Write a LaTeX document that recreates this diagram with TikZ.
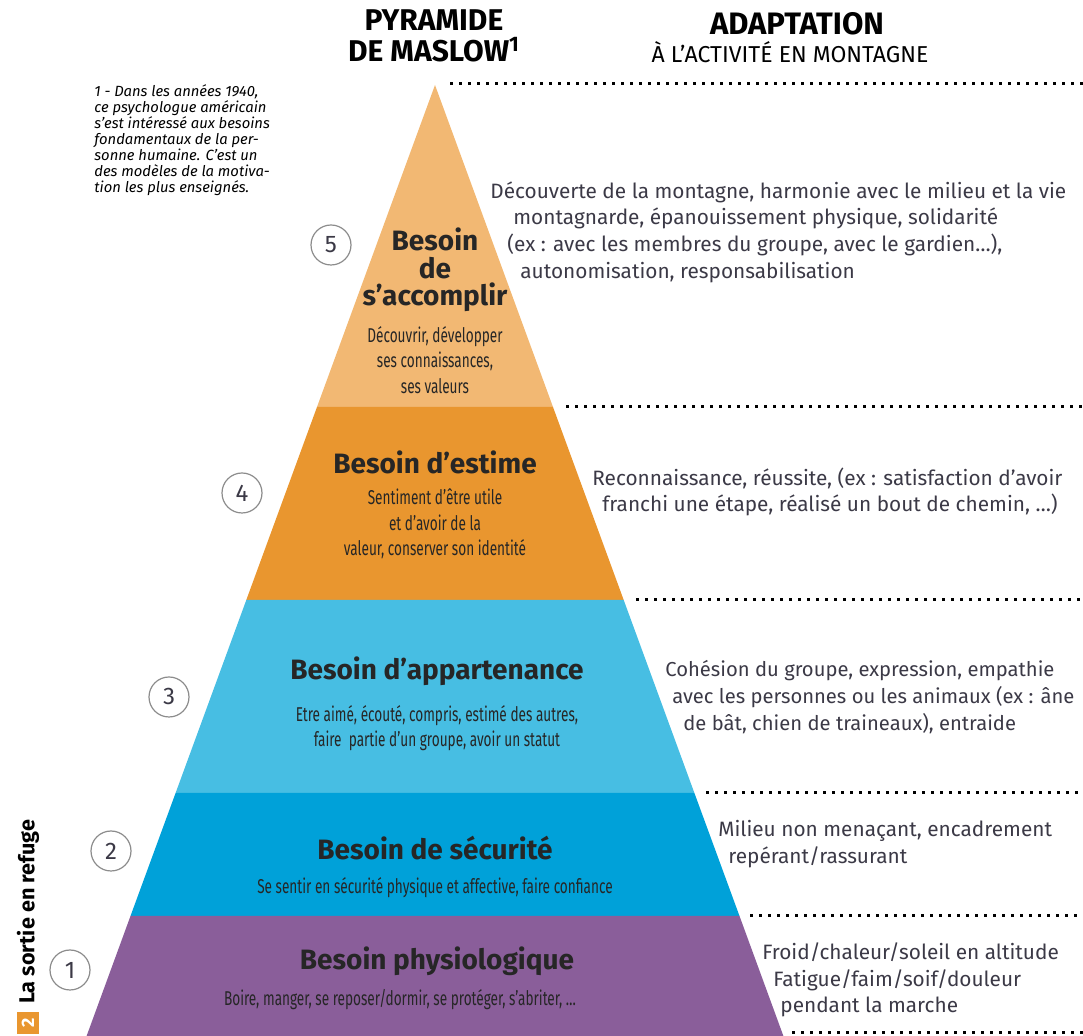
\documentclass[tikz,border=0pt]{standalone}
\usepackage{fontspec}
\setmainfont{Fira Sans}
\newfontfamily\condfont[FakeStretch=0.68]{Fira Sans}
\usetikzlibrary{positioning}
\definecolor{lvlfive}{HTML}{F2B873}
\definecolor{lvlfour}{HTML}{E9962F}
\definecolor{lvlthree}{HTML}{47BEE3}
\definecolor{lvltwo}{HTML}{00A1D9}
\definecolor{lvlone}{HTML}{8A5E9A}
\definecolor{txtgrey}{HTML}{3B3946}
\tikzset{
  band title/.style={font=\bfseries\fontsize{14}{13.8}\selectfont, text=black!85, align=center},
  band text/.style={font=\condfont\fontsize{10}{12.8}\selectfont, text=black!85, align=center},
  adapt text/.style={font=\fontsize{10.4}{13.3}\selectfont, text=txtgrey, align=left, anchor=west, inner sep=0pt},
  level num/.style={circle, draw=black!45, line width=0.6pt, minimum size=20pt, inner sep=0pt, font=\fontsize{12}{12}\selectfont, text=txtgrey},
  sep line/.style={line width=1.5pt, dash pattern=on 1.5pt off 3pt}
}
\begin{document}
\begin{tikzpicture}[x=0.5pt,y=-0.5pt]
\useasboundingbox (0,0) rectangle (1083,1036);
\fill [lvlfive] (435,85) -- (553,407) -- (317,407) -- cycle;
\fill [lvlfour] (317,407) -- (553,407) -- (623.7,600) -- (246.3,600) -- cycle;
\fill [lvlthree] (246.3,600) -- (623.7,600) -- (694.4,793) -- (175.6,793) -- cycle;
\fill [lvltwo] (175.6,793) -- (694.4,793) -- (739.5,916) -- (130.5,916) -- cycle;
\fill [lvlone] (130.5,916) -- (739.5,916) -- (783.4,1036) -- (86.6,1036) -- cycle;
\draw [sep line] (450,84) -- (1083,84);
\draw [sep line] (566,407) -- (1083,407);
\draw [sep line] (636,600) -- (1083,600);
\draw [sep line] (706,793) -- (1083,793);
\draw [sep line] (750,916) -- (1083,916);
\draw [sep line] (792,1033) -- (1083,1033);
\node (hpyr) [font=\bfseries\fontsize{15}{15.5}\selectfont, align=center, inner sep=1pt] at (434,36) {PYRAMIDE\\DE MASLOW\textsuperscript{1}};
\node (hada) [font=\bfseries\fontsize{15.5}{15}\selectfont] at (797,24) {ADAPTATION};
\node (hsub) [font=\fontsize{11.5}{11.5}\selectfont] at (790,52) {À L’ACTIVITÉ EN MONTAGNE};
\node (note) [font=\itshape\fontsize{7.4}{8}\selectfont, align=left, anchor=north west, inner sep=0pt] at (94,84) {1 - Dans les années 1940,\\ce psychologue américain\\s’est intéressé aux besoins\\fondamentaux de la per-\\sonne humaine. C’est un\\des modèles de la motiva-\\tion les plus enseignés.};
\node (chap) [font=\bfseries\fontsize{10.8}{10.8}\selectfont, rotate=90] at (28,912) {La sortie en refuge};
\node (chapnum) [fill=lvlfour, text=white, minimum size=11pt, inner sep=0pt, font=\bfseries\fontsize{9}{9}\selectfont, rotate=90] at (28,1023) {2};
\node (n5) [level num] at (331,245) {5};
\node (n4) [level num] at (242,493) {4};
\node (n3) [level num] at (169,697) {3};
\node (n2) [level num] at (111,851) {2};
\node (n1) [level num] at (70,970) {1};
\node (t5) [band title] at (435,270) {Besoin\\de\\s’accomplir};
\node (s5) [band text] at (435,360) {Découvrir, développer\\ses connaissances,\\ses valeurs};
\node (t4) [band title] at (435,462) {Besoin d’estime};
\node (s4) [band text] at (435,524) {Sentiment d’être utile\\et d’avoir de la\\valeur, conserver son identité};
\node (t3) [band title] at (437,671) {Besoin d’appartenance};
\node (s3) [band text] at (437,728) {Etre aimé, écouté, compris, estimé des autres,\\faire\ \ partie d’un groupe, avoir un statut};
\node (t2) [band title] at (435,848) {Besoin de sécurité};
\node (s2) [band text] at (435,888) {Se sentir en sécurité physique et affective, faire confiance};
\node (t1) [band title] at (437,961) {Besoin physiologique};
\node (s1) [band text] at (400,1000) {Boire, manger, se reposer/dormir, se protéger, s’abriter, \dots};
\node (a5) [adapt text] at (490,232) {Découverte de la montagne, harmonie avec le milieu et la vie\\\hspace*{11.5pt}montagnarde, épanouissement physique, solidarité\\\hspace*{8.5pt}(ex : avec les membres du groupe, avec le gardien\dots),\\\hspace*{15pt}autonomisation, responsabilisation};
\node (a4) [adapt text] at (592,492) {Reconnaissance, réussite, (ex : satisfaction d’avoir\\\hspace*{5pt}franchi une étape, réalisé un bout de chemin, \dots)};
\node (a3) [adapt text, font=\fontsize{10.1}{13.3}\selectfont] at (665,697) {Cohésion du groupe, expression, empathie\\\hspace*{3.5pt}avec les personnes ou les animaux (ex : âne\\\hspace*{9pt}de bât, chien de traineaux), entraide};
\node (a2) [adapt text] at (718,844) {Milieu non menaçant, encadrement\\\hspace*{5pt}repérant/rassurant};
\node (a1) [adapt text] at (762,980) {Froid/chaleur/soleil en altitude\\\hspace*{5.5pt}Fatigue/faim/soif/douleur\\\hspace*{9pt}pendant la marche};
\end{tikzpicture}
\end{document}
